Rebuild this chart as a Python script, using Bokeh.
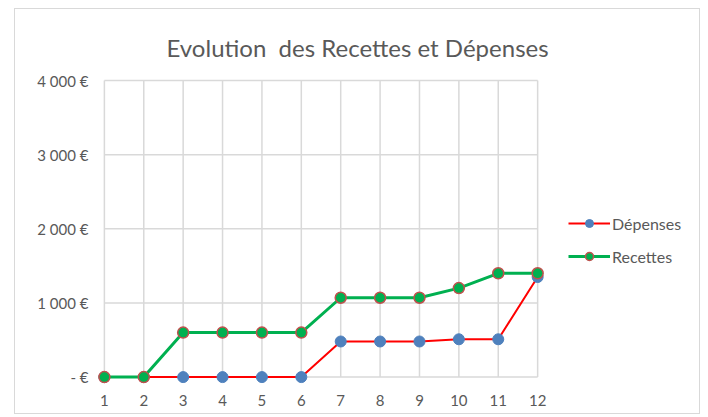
from bokeh.plotting import figure
from bokeh.models import (Range1d, FixedTicker, Legend, LegendItem, ColumnDataSource)
from bokeh.embed import file_html
from bokeh.resources import INLINE

months = [1, 2, 3, 4, 5, 6, 7, 8, 9, 10, 11, 12]
depenses = [0, 0, 0, 0, 0, 0, 480, 480, 480, 510, 510, 1350]
recettes = [0, 0, 600, 600, 600, 600, 1070, 1070, 1070, 1200, 1400, 1400]
y_ticks = [0, 1000, 2000, 3000, 4000]
y_labels = ["- €", "1 000 €", "2 000 €", "3 000 €", "4 000 €"]
title_text = "Evolution\u00a0 des Recettes et Dépenses"

FONT = "Lato"
GRID = "#d9d9d9"
TXT = "#595959"

p = figure(width=686, height=406, output_backend="svg", toolbar_location=None,
           x_range=Range1d(0.8, 16.16), y_range=Range1d(-100, 4027),
           min_border_left=81, min_border_right=0, min_border_top=69, min_border_bottom=31)
p.styles = {"border": "1px solid #d9d9d9", "margin-left": "14px", "margin-top": "8px"}
p.title.text = title_text
p.title.align = "left"
p.title.offset = 70
p.title.text_font = FONT
p.title.text_font_size = "24px"
p.title.text_font_style = "normal"
p.title.text_color = TXT
p.title.standoff = 33

p.outline_line_color = None
p.background_fill_color = "white"
p.border_fill_color = "white"
p.xgrid.grid_line_color = None
p.ygrid.grid_line_color = None

# axes
p.xaxis.ticker = FixedTicker(ticks=months)
p.xaxis.axis_line_color = None
p.xaxis.major_tick_line_color = None
p.xaxis.minor_tick_line_color = None
p.xaxis.major_label_text_font = FONT
p.xaxis.major_label_text_font_size = "15px"
p.xaxis.major_label_text_color = TXT
p.xaxis.major_label_standoff = 4

p.yaxis.ticker = FixedTicker(ticks=y_ticks)
p.yaxis.major_label_overrides = {t: l for t, l in zip(y_ticks, y_labels)}
p.yaxis.axis_line_color = None
p.yaxis.major_tick_line_color = None
p.yaxis.minor_tick_line_color = None
p.yaxis.major_label_text_font = FONT
p.yaxis.major_label_text_font_size = "15px"
p.yaxis.major_label_text_color = TXT
p.yaxis.major_label_standoff = 2

# gridlines restricted to the plot area (months 1..12, 0..4000)
x_first, x_last = months[0], months[-1]
y_first, y_last = y_ticks[0], y_ticks[-1]
p.segment(x0=months, x1=months, y0=[y_first] * len(months), y1=[y_last] * len(months),
          line_color=GRID, line_width=1.5)
p.segment(x0=[x_first] * len(y_ticks), x1=[x_last] * len(y_ticks), y0=y_ticks, y1=y_ticks,
          line_color=GRID, line_width=1.5)

src = ColumnDataSource(dict(x=months, dep=depenses, rec=recettes))

l1 = p.line("x", "dep", source=src, line_color="#ff0000", line_width=2)
c1 = p.scatter("x", "dep", source=src, size=11, fill_color="#4f81bd", line_color="#4f81bd")
l2 = p.line("x", "rec", source=src, line_color="#00b050", line_width=3)
c2 = p.scatter("x", "rec", source=src, size=11, fill_color="#00b050", line_color="#c0504d", line_width=1.5)

legend = Legend(items=[LegendItem(label="Dépenses", renderers=[l1, c1]),
                       LegendItem(label="Recettes", renderers=[l2, c2])],
                location=(472, 118), orientation="vertical",
                glyph_width=42, glyph_height=20, spacing=13, padding=0, margin=0,
                label_standoff=2, label_text_font=FONT, label_text_font_size="16px",
                label_text_color=TXT, border_line_color=None, background_fill_alpha=0)
p.add_layout(legend, "center")

open("out.html", "w").write(file_html(p, INLINE))
